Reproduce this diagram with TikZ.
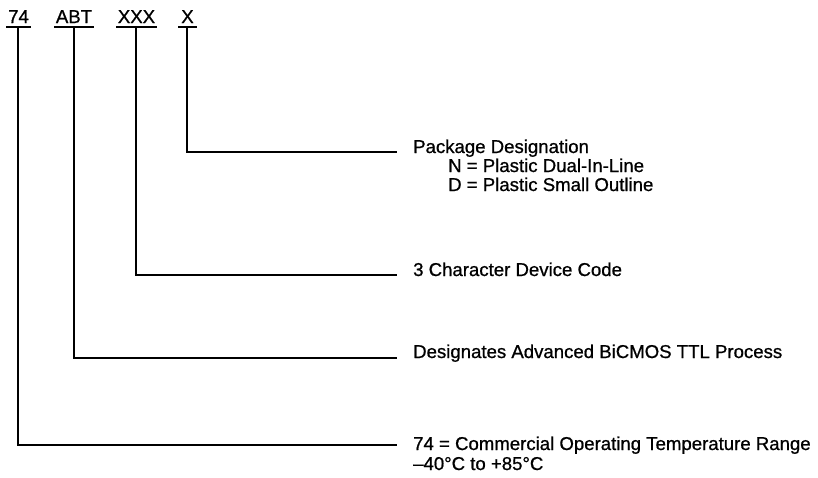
\documentclass[tikz,border=0pt]{standalone}
\usepackage{fontspec}
\setmainfont[FakeBold=0.8]{Liberation Sans}
\begin{document}
\begin{tikzpicture}[x=1pt,y=-1pt,
  every node/.style={font=\fontsize{18.6}{23}\selectfont},
  lab/.style={anchor=base, inner xsep=3pt, inner ysep=0pt, text depth=0pt, minimum height=0pt, outer sep=0pt},
  desc/.style={anchor=base west, inner sep=0pt},
  wire/.style={line width=1.7pt, line cap=rect},
  uline/.style={line width=1.7pt}]
\useasboundingbox (0,0) rectangle (818,477);
% top labels
\node[lab] (l74) at (18.5,23) {74};
\node[lab] (lABT) at (74,23) {ABT};
\node[lab] (lXXX) at (136.5,23) {XXX};
\node[lab] (lX) at (187.5,23) {X};
\draw[uline] (6,27) -- (31,27);
\draw[uline] (54,27) -- (94,27);
\draw[uline] (116,27) -- (157,27);
\draw[uline] (178,27) -- (197,27);
% descriptions
\node[desc] (dX) at (413,153) {Package Designation};
\node[desc] (dN) at (448,172) {N = Plastic Dual-In-Line};
\node[desc] (dD) at (448,191) {D = Plastic Small Outline};
\node[desc] (dXXX) at (413,276) {3 Character Device Code};
\node[desc] (dABT) at (413,358) {Designates Advanced BiCMOS TTL Process};
\node[desc] (d74) at (413,450) {74 = Commercial Operating Temperature Range};
\node[desc] (d74b) at (413,470) {--40°C to +85°C};
% line ends
\coordinate (eX) at (396,152);
\coordinate (eXXX) at (396,275);
\coordinate (eABT) at (396,358);
\coordinate (e74) at (396,445);
% connectors
\draw[wire] (187,27) |- (eX);
\draw[wire] (136,27) |- (eXXX);
\draw[wire] (74,27) |- (eABT);
\draw[wire] (18,27) |- (e74);
\end{tikzpicture}
\end{document}
